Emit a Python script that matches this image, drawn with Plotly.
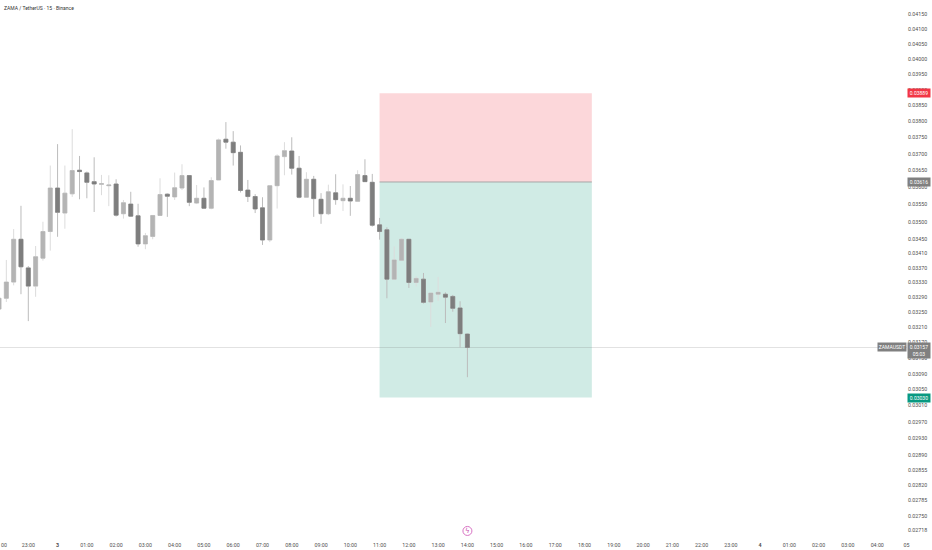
import math
import numpy as np
import pandas as pd
import plotly.graph_objects as go

times = pd.date_range("2026-02-02 22:00", periods=65, freq="15min")
opens = [.03258,.03287,.03331,.0345,.0337,.0332,.03397,.03472,.03598,.03525,.03581,.03651,.03643,.03617,.03609,.03605,
         .0361,.03523,.03551,.03517,.03437,.03458,.03518,.0358,.03572,.03598,.03635,.03554,.03568,.03539,.03622,.03745,
         .03736,.03705,.03592,.03573,.0354,.03448,.03605,.03692,.03709,.03657,.03571,.03624,.03565,.03523,.03584,.03561,
         .03568,.03559,.03635,.03615,.03491,.03477,.03339,.03391,.0345,.0333,.03339,.03277,.03298,.03298,.03292,.03261,.03192]
highs = [.03295,.03392,.03479,.03546,.03375,.03431,.035,.03665,.0373,.03665,.03776,.03694,.03647,.0369,.03637,.03636,
         .03624,.03563,.03587,.03552,.03468,.03518,.03627,.03582,.03644,.03669,.03635,.03607,.036,.0363,.03747,.03798,
         .0377,.03726,.03622,.0358,.03571,.03605,.03699,.03736,.03751,.03694,.03645,.03634,.03583,.03608,.03639,.03609,
         .03604,.03651,.03684,.0364,.03511,.03484,.0343,.03453,.0345,.03347,.03356,.03301,.03345,.03303,.03296,.03279,.03193]
lows = [.0325,.03277,.03322,.03298,.03226,.03291,.0339,.03418,.03457,.0348,.03572,.03565,.03568,.03528,.03577,.03545,
        .03515,.03509,.03515,.03429,.03422,.0345,.03518,.03514,.03563,.03592,.03545,.03551,.03537,.03536,.03622,.03716,
        .03665,.03585,.03557,.03525,.03434,.03442,.03538,.03636,.03638,.03568,.03571,.03514,.03494,.03519,.03549,.03531,
        .03517,.03559,.03617,.03486,.03449,.03287,.03339,.03391,.03315,.03319,.03273,.03211,.0328,.03221,.03251,.03157,.03081]
closes = [.03287,.03331,.0345,.03373,.0332,.03401,.03472,.03598,.03527,.03583,.0365,.03647,.03615,.0361,.03611,.03607,
          .03519,.03555,.03516,.03437,.0346,.03518,.03579,.03574,.03599,.03635,.03556,.03568,.03539,.0362,.03743,.03736,
          .03704,.03591,.03573,.03537,.03448,.03605,.03694,.0371,.03657,.03571,.03624,.03567,.03523,.03587,.03564,.03568,
          .0356,.03638,.03617,.0349,.03472,.03339,.03392,.0345,.0333,.03341,.03276,.03301,.03303,.0329,.0326,.03193,.03157]

price_ticks = [.04150,.04100,.04050,.04000,.03950,.03900,.03850,.03800,.03750,.03700,.03650,.03600,.03550,.03500,.03450,
               .03410,.03370,.03330,.03290,.03250,.03210,.03170,.03130,.03090,.03050,.03010,.02970,.02930,.02890,.02855,
               .02820,.02785,.02750,.02718]
time_ticks = pd.date_range("2026-02-02 23:00", periods=31, freq="1h")
time_labels = ["<b>%d</b>" % t.day if t.hour == 0 else ("05" if t.hour == 5 and t.day == 4 else t.strftime("%H:%M")) for t in time_ticks]

stop_price = 0.03889
entry_price = 0.03616
target_price = 0.03030
last_price = 0.03157
box_start = "2026-02-03 11:00"
box_end = "2026-02-03 18:15"
x_range = ["2026-02-02 22:02", "2026-02-04 05:01"]
y_range = [math.log10(0.02707), math.log10(0.04198)]

FONT = "Roboto, sans-serif"
TXT = "#4f4f4f"

fig = go.Figure()
for top, bottom, col in [(stop_price, entry_price, "#fcd7da"), (entry_price, target_price, "#d0ebe5")]:
    fig.add_shape(type="rect", xref="x", yref="y", x0=box_start, x1=box_end, y0=bottom, y1=top,
                  fillcolor=col, line=dict(width=0), layer="below")
fig.add_shape(type="line", xref="x", yref="y", x0=box_start, x1=box_end, y0=entry_price, y1=entry_price,
              line=dict(color="#a6a6a6", width=1), layer="below")
fig.add_shape(type="line", xref="x", yref="y", x0=x_range[0], x1=x_range[1], y0=last_price, y1=last_price,
              line=dict(color="rgba(110,110,110,0.2)", width=1), layer="below")

o, c = np.array(opens), np.array(closes)
fig.add_trace(go.Candlestick(x=times, open=opens, high=highs, low=lows, close=closes, whiskerwidth=0,
                             increasing=dict(line=dict(color="#dcdcdc", width=1), fillcolor="#dcdcdc"),
                             decreasing=dict(line=dict(color="#bcbcbc", width=1), fillcolor="#bcbcbc")))
fig.add_trace(go.Candlestick(x=times, open=opens, high=np.maximum(o, c), low=np.minimum(o, c), close=closes,
                             increasing=dict(line=dict(color="#b4b4b4", width=0.5), fillcolor="#b4b4b4"),
                             decreasing=dict(line=dict(color="#7e7e7e", width=0.5), fillcolor="#7e7e7e")))

fig.add_trace(go.Scatter(x=["2026-02-03 14:00"], y=[0.02716], mode="markers+text", text=["ϟ"],
                         textposition="middle center", textfont=dict(size=7, color="#c84fb0", family="DejaVu Sans"),
                         marker=dict(size=9, color="white", line=dict(color="#d873c4", width=1)),
                         cliponaxis=False, hoverinfo="skip"))

def tag(value, text, bg, x=1.0, anchor="left", h=8, w=22, dy=0):
    fig.add_annotation(xref="paper", yref="y", x=x, y=math.log10(value), yshift=dy, text=text, showarrow=False,
                       xanchor=anchor, yanchor="middle", bgcolor=bg, font=dict(size=5, color="white", family=FONT),
                       borderpad=0, height=h, width=w, align="center")

tag(stop_price, "%.5f" % stop_price, "#f23645", x=1.0)
tag(entry_price, "%.5f" % entry_price, "#808080", x=1.0)
tag(target_price, "%.5f" % target_price, "#089981", x=1.0)
tag(last_price, "%.5f<br>05:03" % last_price, "#808080", x=1.0, h=15, dy=-3)
tag(last_price, "ZAMAUSDT", "#808080", x=1.0, anchor="right", w=28)

fig.add_annotation(xref="paper", yref="paper", x=3/932, y=1, yshift=-4, xanchor="left", yanchor="top", showarrow=False,
                   text="ZAMA / TetherUS · 15 · Binance", font=dict(size=5, color="#333333", family=FONT), borderpad=0)
fig.add_annotation(xref="paper", yref="paper", x=0, y=0, yshift=-6, xanchor="left", yanchor="top", showarrow=False,
                   text="00", font=dict(size=5.3, color=TXT, family=FONT), borderpad=0)

fig.update_layout(
    width=932, height=550, margin=dict(l=0, r=25, t=0, b=15),
    paper_bgcolor="white", plot_bgcolor="white", showlegend=False, boxgap=0.22,
    font=dict(family=FONT, size=5.3, color=TXT),
    xaxis=dict(type="date", range=x_range, rangeslider=dict(visible=False), showgrid=False, zeroline=False,
               showline=False, ticks="", tickmode="array", tickvals=list(time_ticks), ticktext=time_labels,
               tickangle=0, ticklabelstandoff=6, tickfont=dict(size=5.3, color=TXT, family=FONT)),
    yaxis=dict(type="log", side="right", range=y_range, showgrid=False, zeroline=False, showline=False, ticks="",
               tickmode="array", tickvals=price_ticks, ticktext=["%.5f" % p for p in price_ticks],
               tickfont=dict(size=5.3, color=TXT, family=FONT)),
)
fig.write_html("out.html", config={"displayModeBar": False}, post_script="document.body.style.margin='0';")
